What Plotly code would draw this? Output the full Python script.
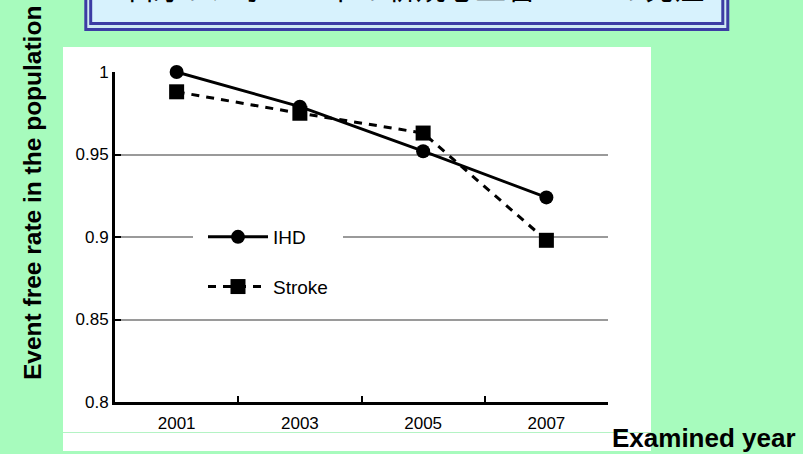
import plotly.graph_objects as go

# ---- data ----
years = ["2001", "2003", "2005", "2007"]
ihd = [1.000, 0.979, 0.952, 0.924]
stroke = [0.988, 0.975, 0.963, 0.898]
y_ticks = [0.8, 0.85, 0.9, 0.95, 1.0]

title_text = "5年間のフォロー中の新規心血管eventの発症"
y_title = "Event free rate in the population"
x_title = "Examined year"

# ---- layout geometry ----
W, H = 803, 454
L, R, T, B = 115, 195, 72, 52
PW, PH = W - L - R, H - T - B

def px(x):
    return (x - L) / PW

def py(y):
    return (H - B - y) / PH

BG = "#a7fbbd"
FONT = "Liberation Sans, Arial, sans-serif"

fig = go.Figure()
fig.add_trace(go.Scatter(
    x=years, y=ihd, name="IHD", mode="lines+markers",
    line=dict(color="black", width=3),
    marker=dict(symbol="circle", size=14, color="black"),
    cliponaxis=False, legendgroup="a",
))
fig.add_trace(go.Scatter(
    x=years, y=stroke, name="Stroke", mode="lines+markers",
    line=dict(color="black", width=3, dash="8px,7px"),
    marker=dict(symbol="square", size=15, color="black"),
    cliponaxis=False, legendgroup="b",
))

shapes = [
    # white panel
    dict(type="rect", xref="paper", yref="paper", x0=px(63), x1=px(651), y0=py(451), y1=py(47),
         fillcolor="white", line=dict(width=0), layer="below"),
    dict(type="line", xref="paper", yref="paper", x0=px(63), x1=px(651), y0=py(432.5), y1=py(432.5),
         line=dict(color="#b4f3c4", width=1), layer="below"),
    # title box (double border)
    dict(type="rect", xref="paper", yref="paper", x0=px(85.8), x1=px(727.8), y0=py(29.5), y1=py(-20),
         fillcolor="#cfeaf3", line=dict(color="#3c3ca4", width=3), layer="above"),
    dict(type="rect", xref="paper", yref="paper", x0=px(90.7), x1=px(722.8), y0=py(23.5), y1=py(-20),
         fillcolor="#d7f2fd", line=dict(color="#3c3ca4", width=3), layer="above"),
]

annotations = [
    dict(text=title_text, xref="paper", yref="paper", x=px(401), y=py(10), xanchor="center",
         yanchor="bottom", showarrow=False,
         font=dict(family="Noto Sans CJK JP", size=30, color="black")),
    dict(text="<b>" + y_title + "</b>", xref="paper", yref="paper", x=px(32), y=py(193),
         xanchor="center", yanchor="middle", textangle=-90, showarrow=False,
         font=dict(family=FONT, size=24.5, color="black")),
    dict(text="<b>" + x_title + "</b>", xref="paper", yref="paper", x=px(704), y=py(438),
         xanchor="center", yanchor="middle", showarrow=False,
         font=dict(family=FONT, size=26, color="black")),
]

fig.update_layout(
    width=W, height=H,
    margin=dict(l=L, r=R, t=T, b=B, pad=0),
    paper_bgcolor=BG, plot_bgcolor="white",
    font=dict(family=FONT, size=17, color="black"),
    shapes=shapes, annotations=annotations,
    showlegend=True,
    legend=dict(x=px(193), y=py(208), xanchor="left", yanchor="top",
                bgcolor="white", bordercolor="white", borderwidth=10, itemwidth=60,
                tracegroupgap=22, font=dict(family=FONT, size=19, color="black")),
    xaxis=dict(type="category", range=[-0.5, 3.5], tickson="boundaries",
               ticks="inside", ticklen=6, tickwidth=2, tickcolor="black",
               showline=True, linewidth=3, linecolor="black", showgrid=False,
               tickfont=dict(size=17), ticklabelstandoff=4, fixedrange=True),
    yaxis=dict(range=[0.8, 1.0], tickvals=y_ticks, ticks="inside", ticklen=6, tickwidth=2,
               tickcolor="black", showline=True, linewidth=3, linecolor="black",
               showgrid=True, gridcolor="#9a9a9a", gridwidth=1.5, zeroline=False,
               tickfont=dict(size=17), fixedrange=True),
)

fig.write_html("out.html")
